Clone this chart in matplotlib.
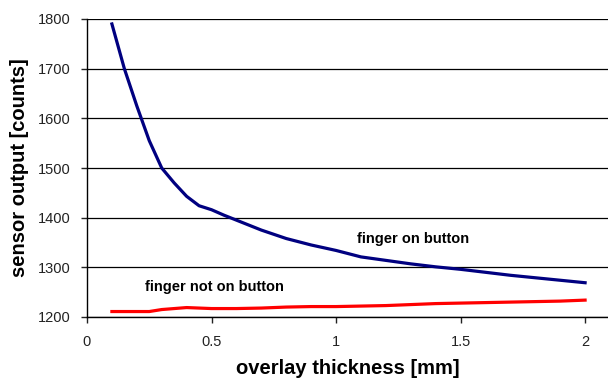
import matplotlib
matplotlib.use("Agg")
import matplotlib.pyplot as plt

thickness_on = [0.1, 0.15, 0.2, 0.25, 0.3, 0.35, 0.4, 0.45, 0.5, 0.55, 0.6, 0.7, 0.8, 0.9,
                1.0, 1.1, 1.2, 1.3, 1.4, 1.5, 1.6, 1.7, 1.8, 1.9, 2.0]
finger_on = [1790, 1700, 1625, 1555, 1500, 1470, 1443, 1424, 1416, 1405, 1395, 1375, 1358, 1345,
             1334, 1321, 1314, 1307, 1301, 1296, 1290, 1284, 1279, 1274, 1269]

thickness_off = [0.1, 0.2, 0.25, 0.3, 0.35, 0.4, 0.45, 0.5, 0.6, 0.7, 0.8, 0.9, 1.0,
                 1.1, 1.2, 1.3, 1.4, 1.5, 1.6, 1.7, 1.8, 1.9, 2.0]
finger_off = [1211, 1211, 1211, 1215, 1217, 1219, 1218, 1217, 1217, 1218, 1220, 1221, 1221,
              1222, 1223, 1225, 1227, 1228, 1229, 1230, 1231, 1232, 1234]

x_ticks = [0, 0.5, 1, 1.5, 2]
x_tick_labels = ["0", "0.5", "1", "1.5", "2"]
y_ticks = [1200, 1300, 1400, 1500, 1600, 1700, 1800]

plt.rcParams['font.family'] = ['Liberation Sans', 'DejaVu Sans']

fig = plt.figure(figsize=(6.08, 3.79), dpi=100)
ax = fig.add_axes([87/608, 62/379, 1 - 87/608, (317-19)/379])

ax.plot(thickness_on, finger_on, color='#000080', lw=2.3, solid_joinstyle='round')
ax.plot(thickness_off, finger_off, color='#ff0000', lw=2.3)

ax.set_xlim(0, 2.092)
ax.set_ylim(1200, 1800)
ax.set_xticks(x_ticks)
ax.set_xticklabels(x_tick_labels)
ax.set_yticks(y_ticks)
ax.yaxis.grid(True, color='black', lw=0.9)
ax.set_axisbelow(True)

for s in ['top', 'right']:
    ax.spines[s].set_visible(False)
for s in ['left', 'bottom']:
    ax.spines[s].set_linewidth(1.0)
    ax.spines[s].set_color('black')

ax.tick_params(axis='both', direction='out', length=4, width=1, labelsize=10.5, colors='#222222')
ax.tick_params(axis='y', pad=8)
ax.tick_params(axis='x', pad=9)

ax.set_xlabel("overlay thickness [mm]", fontsize=14.5, fontweight='bold', labelpad=7.5)
ax.set_ylabel("sensor output [counts]", fontsize=14.5, fontweight='bold', labelpad=6)

ax.text(1.084, 1358, "finger on button", fontsize=10.5, fontweight='bold', ha='left', va='center')
ax.text(0.233, 1261, "finger not on button", fontsize=10.5, fontweight='bold', ha='left', va='center')

fig.savefig("out.png", dpi=100)
